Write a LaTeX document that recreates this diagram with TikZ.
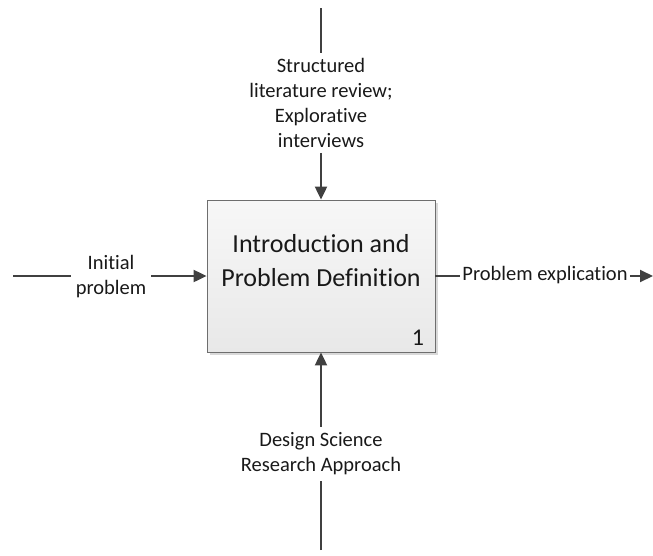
\documentclass[tikz,border=0pt]{standalone}
\usepackage{fontspec}
\setmainfont{Carlito}[Ligatures=NoCommon]
\usetikzlibrary{arrows.meta,shadows}

\definecolor{flowline}{HTML}{404040}
\definecolor{boxedge}{HTML}{6E6E6E}

\tikzset{
  flow/.style={draw=flowline, line width=2pt},
  flowarrow/.style={flow, -{Triangle[length=13pt,width=12pt]}},
  activity/.style={draw=boxedge, line width=0.8pt,
    minimum width=228pt, minimum height=152pt, inner sep=0pt,
    top color=white!97!black, bottom color=black!9,
    drop shadow={shadow xshift=3pt, shadow yshift=-3pt, fill=black!25, opacity=0.6}},
  boxtitle/.style={align=center, font=\fontsize{26}{34}\selectfont, text=black!90},
  boxnum/.style={font=\fontsize{24}{28}\selectfont, text=black!90},
  arrowlabel/.style={align=center, font=\fontsize{20.5}{25}\selectfont, text=black!90,
    inner xsep=4pt, inner ysep=2pt}
}

\begin{document}
\begin{tikzpicture}[x=1pt, y=-1pt]
  \useasboundingbox (0,0) rectangle (653,555);

  % activity box A1
  \node[activity] (proc) at (321,276) {};
  \node[boxtitle] (title) at (321,261) {Introduction and\\Problem Definition};
  \node[boxnum] (num) at (418,338) {1};

  % input
  \coordinate (inStart) at (13,276);
  \node[arrowlabel, inner xsep=5pt] (inLabel) at (111,277) {Initial\\problem};
  \draw[flow] (inStart) -- (inLabel.west |- inStart);
  \draw[flowarrow] (inLabel.east |- inStart) -- (proc.west);

  % output
  \coordinate (outEnd) at (653,276);
  \node[arrowlabel, inner xsep=2pt] (outLabel) at (545,275) {Problem explication};
  \draw[flow] (proc.east) -- (outLabel.west |- proc.east);
  \draw[flowarrow] (outLabel.east |- proc.east) -- (outEnd);

  % control
  \coordinate (ctlStart) at (321,8);
  \node[arrowlabel, inner ysep=5pt] (ctlLabel) at (321,103)
    {Structured\\literature review;\\Explorative\\interviews};
  \draw[flow] (ctlStart) -- (ctlLabel.north);
  \draw[flowarrow] (ctlLabel.south) -- (proc.north);

  % mechanism
  \coordinate (mechStart) at (321,550);
  \node[arrowlabel, inner ysep=6pt] (mechLabel) at (321,454)
    {Design Science\\Research Approach};
  \draw[flow] (mechStart) -- (mechLabel.south);
  \draw[flowarrow] (mechLabel.north) -- (proc.south);
\end{tikzpicture}
\end{document}
